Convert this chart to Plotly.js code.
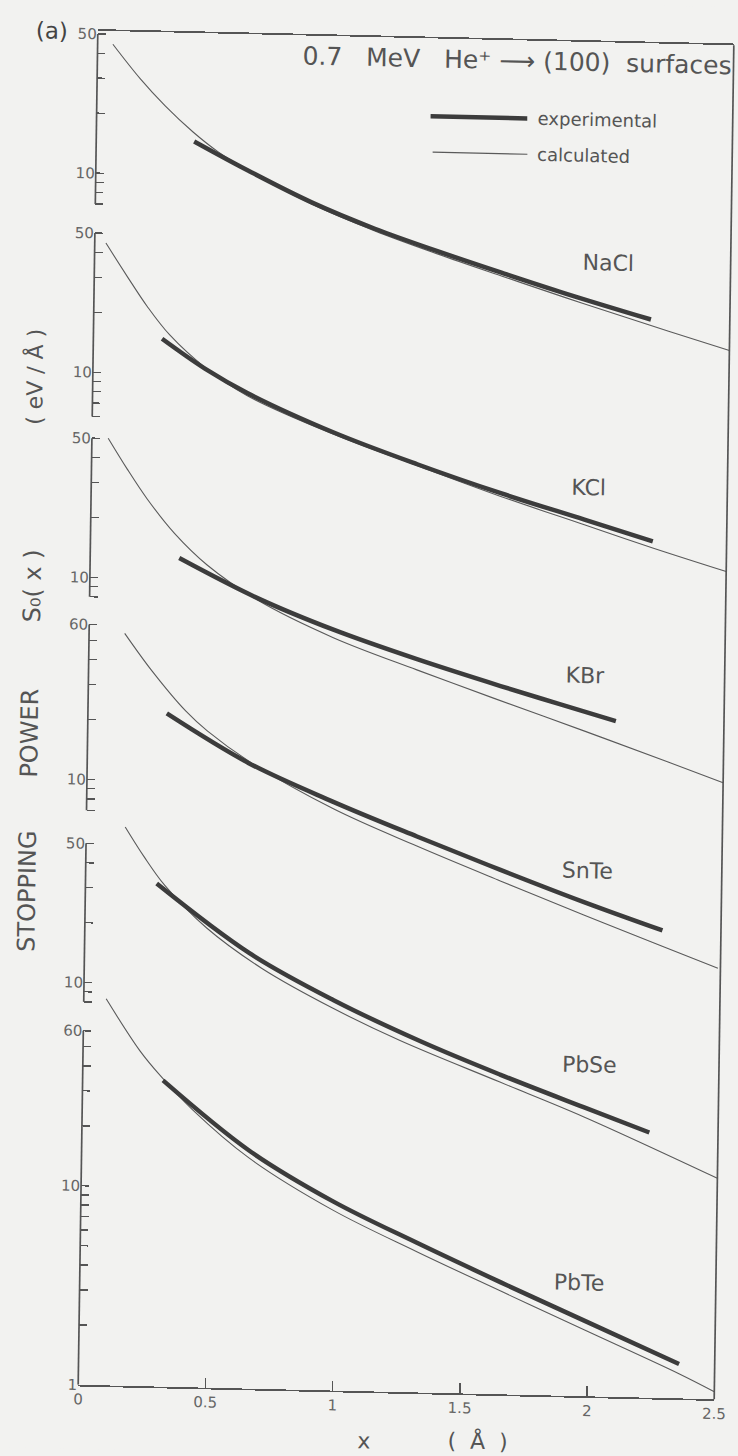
<!DOCTYPE html>
<html><head><meta charset="utf-8">
<script src="https://cdn.plot.ly/plotly-3.0.1.min.js"></script>
<style>
html,body{margin:0;padding:0;background:#f2f2f0;}
#chart{width:738px;height:1456px;transform:matrix(1,0.0227,-0.0145,1,0,0);transform-origin:406px 715px;}
</style>
</head><body><div id="chart"></div>
<script>
// ---- data (x in Å, S0 in eV/Å) ----
const materials = ["NaCl", "KCl", "KBr", "SnTe", "PbSe", "PbTe"];
const shiftDecades = [5.085, 4.085, 3.055, 2.04, 1.02, 0];

const naclCalcX = [0.06, 0.17, 0.27, 0.38, 0.48, 0.60, 0.85, 1.10, 1.35, 1.60, 1.85, 2.09, 2.26, 2.50];
const naclCalcS = [44.6, 30.1, 22.1, 16.5, 13.2, 10.7, 7.41, 5.52, 4.29, 3.39, 2.69, 2.17, 1.87, 1.52];
const naclExpX  = [0.385, 0.60, 0.85, 1.10, 1.35, 1.60, 1.85, 2.19];
const naclExpS  = [14.8, 10.7, 7.55, 5.66, 4.43, 3.52, 2.82, 2.13];

const kclCalcX = [0.044, 0.13, 0.21, 0.30, 0.44, 0.61, 0.95, 1.28, 1.61, 1.94, 2.21, 2.50];
const kclCalcS = [44.7, 30.5, 21.7, 15.7, 10.9, 7.91, 5.20, 3.70, 2.65, 1.95, 1.52, 1.18];
const kclExpX  = [0.27, 0.44, 0.61, 0.95, 1.28, 1.61, 1.94, 2.21];
const kclExpS  = [15.0, 10.74, 8.17, 5.31, 3.76, 2.75, 2.07, 1.64];

const kbrCalcX = [0.064, 0.14, 0.22, 0.33, 0.46, 0.66, 0.96, 1.29, 1.59, 1.95, 2.28, 2.50];
const kbrCalcS = [50.2, 35.4, 25.2, 17.0, 11.9, 8.04, 5.31, 3.74, 2.76, 1.93, 1.38, 1.10];
const kbrExpX  = [0.35, 0.66, 0.96, 1.29, 1.62, 1.85, 2.075];
const kbrExpS  = [12.8, 8.22, 5.82, 4.23, 3.17, 2.62, 2.18];

const snteCalcX = [0.14, 0.25, 0.385, 0.47, 0.635, 0.97, 1.30, 1.63, 1.96, 2.27, 2.49];
const snteCalcS = [54.7, 35.6, 22.6, 18.1, 12.9, 7.60, 5.05, 3.45, 2.38, 1.69, 1.33];
const snteExpX  = [0.31, 0.635, 0.967, 1.30, 1.63, 1.96, 2.27];
const snteExpS  = [21.9, 12.6, 8.26, 5.64, 3.92, 2.76, 2.03];

const pbseCalcX = [0.153, 0.228, 0.312, 0.479, 0.70, 0.98, 1.245, 1.64, 1.97, 2.50];
const pbseCalcS = [61.1, 43.7, 31.4, 19.4, 12.3, 7.93, 5.56, 3.53, 2.42, 1.23];
const pbseExpX  = [0.28, 0.647, 0.98, 1.33, 1.64, 1.97, 2.23];
const pbseExpS  = [32.0, 14.7, 8.73, 5.51, 3.85, 2.70, 2.05];

const pbteCalcX = [0.088, 0.223, 0.307, 0.433, 0.658, 0.991, 1.323, 1.655, 1.987, 2.36, 2.50];
const pbteCalcS = [87.3, 48.4, 36.2, 24.8, 14.4, 8.05, 5.09, 3.30, 2.15, 1.33, 1.09];
const pbteExpX  = [0.316, 0.658, 0.991, 1.323, 1.655, 1.987, 2.36];
const pbteExpS  = [34.5, 15.7, 8.91, 5.64, 3.65, 2.39, 1.49];

// axis ticks for each stacked section, and which of them carry labels
const naclTicks = [50, 40, 30, 20, 10, 9, 8, 7];
const kclTicks  = [50, 40, 30, 20, 10, 9, 8, 7, 6];
const kbrTicks  = [50, 40, 30, 20, 10, 9, 8];
const snteTicks = [60, 50, 40, 30, 20, 10, 9, 8, 7];
const pbseTicks = [50, 40, 30, 20, 10, 9, 8];
const pbteTicks = [60, 50, 40, 30, 20, 10, 9, 8, 7, 6, 5, 4, 3, 2, 1];
const naclLabels = [50, 10];
const kclLabels  = [50, 10];
const kbrLabels  = [50, 10];
const snteLabels = [60, 10];
const pbseLabels = [50, 10];
const pbteLabels = [60, 10, 1];

const xTickVals = [0, 0.5, 1, 1.5, 2, 2.5];
const xTickText = ["0", "0.5", "1", "1.5", "2", "2.5"];

// ---- build ----
const calcX = [naclCalcX, kclCalcX, kbrCalcX, snteCalcX, pbseCalcX, pbteCalcX];
const calcS = [naclCalcS, kclCalcS, kbrCalcS, snteCalcS, pbseCalcS, pbteCalcS];
const expX  = [naclExpX, kclExpX, kbrExpX, snteExpX, pbseExpX, pbteExpX];
const expS  = [naclExpS, kclExpS, kbrExpS, snteExpS, pbseExpS, pbteExpS];
const ticks = [naclTicks, kclTicks, kbrTicks, snteTicks, pbseTicks, pbteTicks];
const labels = [naclLabels, kclLabels, kbrLabels, snteLabels, pbseLabels, pbteLabels];
const labelPos = [[0.808, 0.837], [0.783, 0.671], [0.781, 0.532], [0.789, 0.388], [0.796, 0.2445], [0.785, 0.0839]];

const FONT = "DejaVu Sans";
const INK = "#555";
const traces = [];
const shapes = [];
const annotations = [];
const tickvals = [];
const ticktext = [];

materials.forEach((m, i) => {
  const f = Math.pow(10, shiftDecades[i]);
  traces.push({x: calcX[i], y: calcS[i].map(v => v * f), mode: "lines", type: "scatter",
    line: {color: "#5a5a5a", width: 1.1, shape: "spline", smoothing: 1}, hoverinfo: "skip", name: m + " calculated"});
  traces.push({x: expX[i], y: expS[i].map(v => v * f), mode: "lines", type: "scatter",
    line: {color: "#3c3c3c", width: 4.5, shape: "spline", smoothing: 1}, hoverinfo: "skip", name: m + " experimental"});
  ticks[i].forEach(t => {
    tickvals.push(t * f);
    ticktext.push(labels[i].includes(t) ? String(t) : "");
  });
  shapes.push({type: "line", xref: "paper", x0: 0, x1: 0, yref: "y",
    y0: Math.min(...ticks[i]) * f, y1: Math.max(...ticks[i]) * f,
    line: {color: INK, width: 1.7}});
  annotations.push({text: m, xref: "paper", yref: "paper", x: labelPos[i][0], y: labelPos[i][1],
    showarrow: false, xanchor: "center", yanchor: "middle", font: {family: FONT, size: 22, color: INK}});
});

// right border
shapes.push({type: "line", xref: "paper", yref: "paper", x0: 1, x1: 1, y0: 0, y1: 1, line: {color: INK, width: 1.7}});
// legend samples
shapes.push({type: "line", xref: "paper", yref: "paper", x0: 0.525, x1: 0.677, y0: 0.9425, y1: 0.9425, line: {color: "#3c3c3c", width: 4.5}});
shapes.push({type: "line", xref: "paper", yref: "paper", x0: 0.529, x1: 0.678, y0: 0.916, y1: 0.916, line: {color: "#5a5a5a", width: 1.1}});

annotations.push(
  {text: "experimental", xref: "paper", yref: "paper", x: 0.690, y: 0.9425, xanchor: "left", yanchor: "middle", showarrow: false, font: {family: FONT, size: 18, color: INK}},
  {text: "calculated", xref: "paper", yref: "paper", x: 0.691, y: 0.916, xanchor: "left", yanchor: "middle", showarrow: false, font: {family: FONT, size: 18, color: INK}},
  {text: "0.7   MeV   He\u207A \u27F6 (100)  surfaces", xref: "paper", yref: "paper", x: 1.0, y: 0.9845, xanchor: "right", yanchor: "middle", showarrow: false, font: {family: FONT, size: 25, color: INK}},
  {text: "(a)", xref: "paper", yref: "paper", x: -0.073, y: 0.9994, xanchor: "center", yanchor: "middle", showarrow: false, font: {family: FONT, size: 23, color: "#444"}},
  {text: "STOPPING", xref: "paper", yref: "paper", x: -0.091, y: 0.3632, textangle: -90, xanchor: "center", yanchor: "middle", showarrow: false, font: {family: FONT, size: 24, color: INK}},
  {text: "POWER", xref: "paper", yref: "paper", x: -0.091, y: 0.480, textangle: -90, xanchor: "center", yanchor: "middle", showarrow: false, font: {family: FONT, size: 24, color: INK}},
  {text: "S\u2080( x )", xref: "paper", yref: "paper", x: -0.089, y: 0.589, textangle: -90, xanchor: "center", yanchor: "middle", showarrow: false, font: {family: FONT, size: 24, color: INK}},
  {text: "( eV / Å )", xref: "paper", yref: "paper", x: -0.091, y: 0.7435, textangle: -90, xanchor: "center", yanchor: "middle", showarrow: false, font: {family: FONT, size: 22, color: INK}},
  {text: "x", xref: "paper", yref: "paper", x: 0.451, y: -0.0365, xanchor: "center", yanchor: "middle", showarrow: false, font: {family: FONT, size: 22, color: INK}},
  {text: "(  Å  )", xref: "paper", yref: "paper", x: 0.629, y: -0.0347, xanchor: "center", yanchor: "middle", showarrow: false, font: {family: FONT, size: 22, color: INK}}
);

const layout = {
  width: 738, height: 1456,
  margin: {l: 88, r: 14, t: 38, b: 64},
  paper_bgcolor: "#f2f2f0", plot_bgcolor: "#f2f2f0",
  showlegend: false,
  xaxis: {range: [0, 2.5], showgrid: false, zeroline: false, showline: true, mirror: true,
    linecolor: INK, linewidth: 1.7, ticks: "inside", ticklen: 10, tickwidth: 1.5, tickcolor: INK,
    tickvals: xTickVals, ticktext: xTickText, tickfont: {family: FONT, size: 15, color: "#666"}},
  yaxis: {type: "log", range: [0, 6.80], showgrid: false, zeroline: false, showline: false,
    ticks: "inside", ticklen: 8, tickwidth: 1.5, tickcolor: INK,
    tickvals: tickvals, ticktext: ticktext, tickfont: {family: FONT, size: 15, color: "#666"}},
  shapes: shapes,
  annotations: annotations
};

Plotly.newPlot("chart", traces, layout, {staticPlot: true, displayModeBar: false});
</script>
</body></html>
